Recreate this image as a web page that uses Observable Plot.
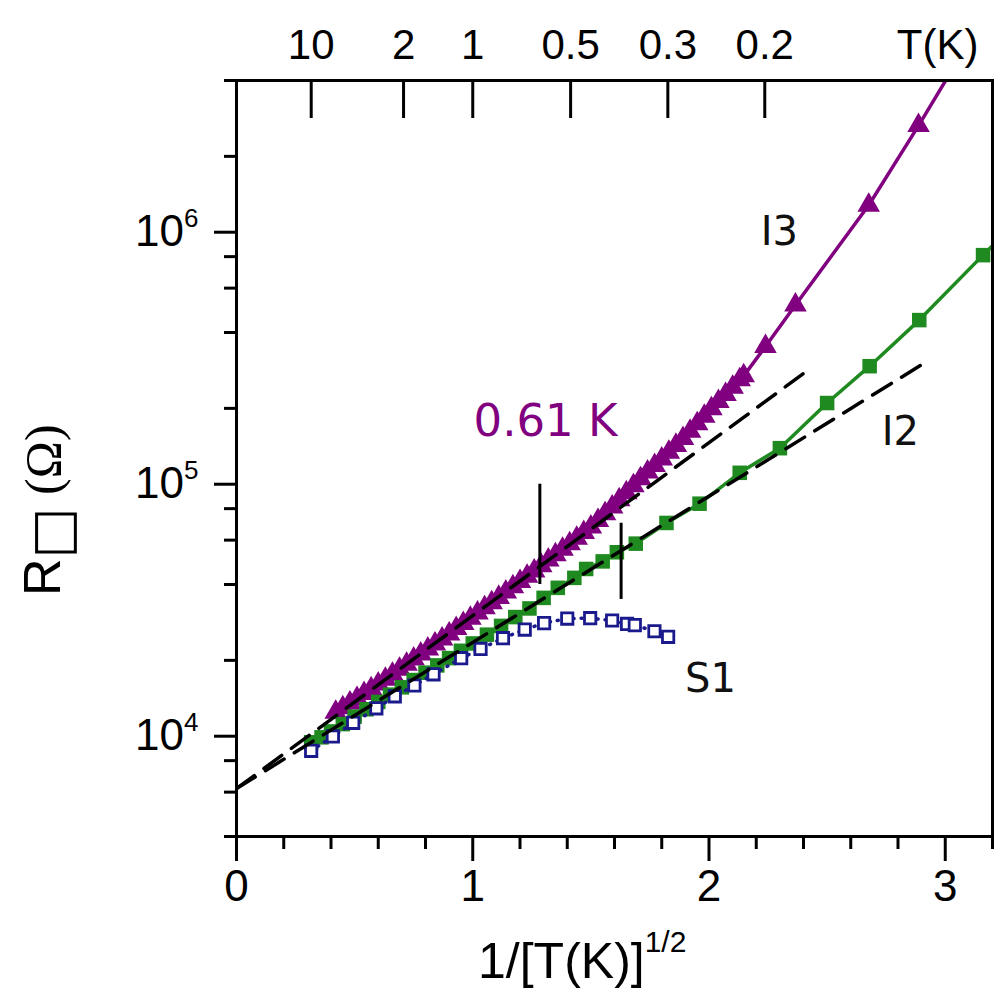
<!DOCTYPE html>
<html><head><meta charset="utf-8">
<script src="https://cdn.jsdelivr.net/npm/d3@7"></script>
<script src="https://cdn.jsdelivr.net/npm/@observablehq/plot@0.6"></script>
<style>body{margin:0;background:#fff;} #chart{width:1006px;height:1004px;}</style>
</head><body><div id="chart"></div>
<script>
// ---- data (x = 1/sqrt(T), R in ohm) ----
const s1X = [0.316,0.408,0.494,0.592,0.670,0.753,0.834,0.951,1.033,1.128,1.220,1.302,1.400,1.497,1.590,1.653,1.686,1.769,1.827];
const s1R = [8750,9980,11300,12900,14400,15900,17600,20400,22200,24500,26500,28100,29300,29400,28800,27900,27600,26100,24800];

const i2X = [0.316,0.36,0.40,0.45,0.50,0.55,0.60,0.65,0.70,0.75,0.80,0.85,0.90,0.95,1.00,1.06,1.12,1.18,1.24,1.30,1.36,1.43,1.48,1.55,1.61,1.69,1.82,1.96,2.13,2.30,2.50,2.68,2.89,3.16,3.30];
const i2R = [9460,9900,10450,11170,11960,12790,13680,14620,15630,16710,17870,19100,20420,21830,23340,25290,27400,29700,32140,35400,38800,42500,46100,49400,53700,58100,70200,83700,111000,139000,210000,294000,448000,811000,1100000];

const i3X = [0.42,0.45,0.48,0.51,0.54,0.57,0.60,0.63,0.66,0.69,0.72,0.75,0.78,0.81,0.84,0.87,0.90,0.93,0.96,0.99,1.02,1.05,1.08,1.11,1.14,1.17,1.20,1.23,1.26,1.29,1.32,1.35,1.38,1.41,1.44,1.47,1.50,1.53,1.56,1.59,1.62,1.65,1.68,1.71,1.74,1.77,1.80,1.83,1.86,1.89,1.92,1.95,1.98,2.01,2.04,2.07,2.10,2.13,2.147,2.239,2.366,2.676,2.887,3.162];
const i3R = [12450,12970,13550,14130,14760,15420,16110,16830,17620,18450,19320,20230,21180,22180,23230,24320,25470,26730,27990,29380,30830,32360,33880,35560,37330,39170,41110,43150,45290,47530,50000,52480,55210,58080,61090,64270,67610,71780,76380,81280,86700,92470,98630,105200,111700,118600,125900,134000,142600,151700,162200,173800,186200,199500,212800,227000,242700,260000,269200,352000,514000,1280000,2650000,7100000];

// dashed activated-hopping fits
const fitI3X = [0, 2.40];
const fitI3R = [6200, 275000];
const fitI2X = [0, 2.91];
const fitI2R = [6200, 302000];

// vertical markers (0.61 K for I3, ~0.375 K for I2)
const markX = [1.284, 1.628];
const markTop = [100000, 70000];
const markBottom = [40000, 34900];

// axes
const bottomMajor = [0, 1, 2, 3];
const bottomMinor = [0.2,0.4,0.6,0.8,1.2,1.4,1.6,1.8,2.2,2.4,2.6,2.8,3.2];
const leftMajor = [1e4, 1e5, 1e6];
const leftMinor = [4e3,6e3,8e3,2e4,4e4,6e4,8e4,2e5,4e5,6e5,8e5,2e6,4e6];
const topT = [10, 2, 1, 0.5, 0.3, 0.2];
const topLabels = ["10", "2", "1", "0.5", "0.3", "0.2"];

// annotations
const labelText = ["I3", "I2", "S1"];
const labelX = [2.298, 2.81, 2.006];
const labelR = [1.0e6, 1.61e5, 1.68e4];
const noteText = ["0.61 K"];
const noteX = [1.308];
const noteR = [1.77e5];

const PURPLE = "#800080", GREEN = "#1f8a1f", NAVY = "#1a1a8c";

const s1 = s1X.map((x, i) => ({x, r: s1R[i]}));
const i2 = i2X.map((x, i) => ({x, r: i2R[i]}));
const i3 = i3X.map((x, i) => ({x, r: i3R[i]}));
const fit1 = fitI3X.map((x, i) => ({x, r: fitI3R[i]}));
const fit2 = fitI2X.map((x, i) => ({x, r: fitI2R[i]}));
const marks = markX.map((x, i) => ({x, y1: markTop[i], y2: markBottom[i]}));
const labels = labelText.map((t, i) => ({t, x: labelX[i], r: labelR[i]}));
const notes = noteText.map((t, i) => ({t, x: noteX[i], r: noteR[i]}));
const topPos = topT.map(t => 1 / Math.sqrt(t));

const chart = Plot.plot({
  width: 1006, height: 1004,
  marginLeft: 236, marginRight: 14, marginTop: 80, marginBottom: 168,
  style: {fontFamily: "'Liberation Sans', Arial, sans-serif", background: "#fff", color: "#000"},
  x: {domain: [0, 3.2], axis: null},
  y: {type: "log", domain: [4000, 4e6], axis: null},
  marks: [
    // series
    Plot.line(i3, {x: "x", y: "r", stroke: PURPLE, strokeWidth: 3.5, clip: true}),
    Plot.dot(i3, {x: "x", y: "r", symbol: "triangle", r: 7.4, fill: PURPLE, stroke: PURPLE, strokeWidth: 1.5, clip: true}),
    Plot.line(i2, {x: "x", y: "r", stroke: GREEN, strokeWidth: 3.5, clip: true}),
    Plot.dot(i2, {x: "x", y: "r", symbol: "square", r: 8.2, fill: GREEN, clip: true}),
    Plot.line(s1, {x: "x", y: "r", stroke: NAVY, strokeWidth: 3.5, strokeDasharray: "1,7", strokeLinecap: "round", clip: true}),
    Plot.dot(s1, {x: "x", y: "r", symbol: "square", r: 6.4, fill: "#fff", stroke: NAVY, strokeWidth: 2.8, clip: true}),
    // fits
    Plot.line(fit1, {x: "x", y: "r", stroke: "#000", strokeWidth: 3.5, strokeDasharray: "22,12", clip: true}),
    Plot.line(fit2, {x: "x", y: "r", stroke: "#000", strokeWidth: 3.5, strokeDasharray: "22,12", clip: true}),
    // markers
    Plot.ruleX(marks, {x: "x", y1: "y1", y2: "y2", stroke: "#000", strokeWidth: 3}),
    // labels
    Plot.text(labels, {x: "x", y: "r", text: "t", fontSize: 40, fontFamily: "Tahoma, 'DejaVu Sans', sans-serif", fill: "#111"}),
    Plot.text(notes, {x: "x", y: "r", text: "t", fontSize: 45, fontFamily: "'DejaVu Sans', Verdana, sans-serif", fill: PURPLE}),
    // frame & axes
    Plot.frame({stroke: "#000", strokeWidth: 3}),
    Plot.axisY(leftMajor, {anchor: "left", tickSize: 22, tickPadding: 16, strokeWidth: 3, fontSize: 44, label: null,
      tickFormat: d => String(Math.round(Math.log10(d)))}),
    Plot.axisY(leftMinor, {anchor: "left", tickSize: 12, strokeWidth: 3, label: null, tickFormat: () => ""}),
    Plot.axisX(bottomMajor, {anchor: "bottom", tickSize: 25, tickPadding: 8, strokeWidth: 3, fontSize: 44, label: null,
      tickFormat: d => String(d)}),
    Plot.axisX(bottomMinor, {anchor: "bottom", tickSize: 13, strokeWidth: 3, label: null, tickFormat: () => ""}),
    Plot.axisX(topPos, {anchor: "top", tickSize: 0, tickPadding: 22, fontSize: 42, label: null,
      tickFormat: d => topLabels[topPos.findIndex(p => Math.abs(p - d) < 1e-9)]}),
    Plot.ruleX(topPos, {x: d => d, insetBottom: 718, stroke: "#000", strokeWidth: 3}),
    Plot.text(["T(K)"], {frameAnchor: "top-right", text: d => d, dy: -22, dx: -14, textAnchor: "end", lineAnchor: "bottom", fontSize: 42})
  ]
});
document.getElementById("chart").appendChild(chart);

// superscript exponents on the left tick labels
const svg = d3.select(chart);
svg.selectAll('g[aria-label="y-axis tick label"] text').each(function() {
  const t = d3.select(this);
  const e = t.text();
  if (!e) return;
  t.text("");
  t.append("tspan").text("10");
  t.append("tspan").attr("dy", "-0.75em").attr("font-size", "26px").text(e);
});

// axis titles
const xt = svg.append("text")
  .attr("x", 478).attr("y", 978)
  .attr("text-anchor", "start")
  .attr("font-family", "'Liberation Sans', Arial, sans-serif")
  .attr("font-size", 50).attr("fill", "#000");
xt.append("tspan").text("1/[T(K)]");
xt.append("tspan").attr("dy", -26).attr("font-size", 30).text("1/2");

const yt = svg.append("text")
  .attr("transform", "translate(60,596) rotate(-90)")
  .attr("text-anchor", "start")
  .attr("font-family", "'Liberation Sans', Arial, sans-serif")
  .attr("font-size", 52).attr("fill", "#000");
yt.append("tspan").text("R");
yt.append("tspan").attr("dy", 10).attr("font-family", "'DejaVu Sans', sans-serif").attr("font-size", 54).text("\u25A1");
yt.append("tspan").attr("dy", -10).attr("font-family", "'Liberation Serif', serif").attr("font-size", 50).text(" (\u03A9)");
</script>
</body></html>
